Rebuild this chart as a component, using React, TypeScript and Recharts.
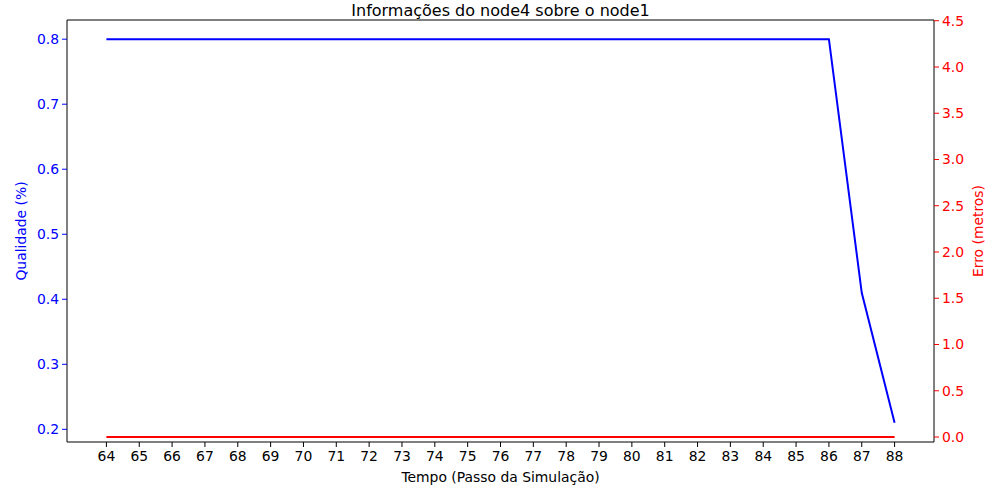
import React from "react";
import { LineChart, Line, XAxis, YAxis, Label } from "recharts";

// Passos da simulação
const steps = [64, 65, 66, 67, 68, 69, 70, 71, 72, 73, 74, 75, 76, 77, 78, 79, 80, 81, 82, 83, 84, 85, 86, 87, 88];
const qualidade = [0.8, 0.8, 0.8, 0.8, 0.8, 0.8, 0.8, 0.8, 0.8, 0.8, 0.8, 0.8, 0.8, 0.8, 0.8, 0.8, 0.8, 0.8, 0.8, 0.8, 0.8, 0.8, 0.8, 0.41, 0.21];
const erro = [0, 0, 0, 0, 0, 0, 0, 0, 0, 0, 0, 0, 0, 0, 0, 0, 0, 0, 0, 0, 0, 0, 0, 0, 0];
const leftTicks = [0.2, 0.3, 0.4, 0.5, 0.6, 0.7, 0.8];
const rightTicks = [0, 0.5, 1, 1.5, 2, 2.5, 3, 3.5, 4, 4.5];

const data = steps.map((s, i) => ({ step: s, qualidade: qualidade[i], erro: erro[i] }));

const FONT = "DejaVu Sans, sans-serif";
const FS = 13.9;

export default function App() {
  return (
    <div style={{ position: "absolute", left: 0, top: 0, fontFamily: FONT }}>
      <LineChart
        width={1000}
        height={500}
        data={data}
        margin={{ top: 19, right: 0, bottom: 0, left: 0 }}
      >
        <XAxis
          dataKey="step"
          type="number"
          domain={[62.8, 89.2]}
          ticks={steps}
          interval={0}
          allowDataOverflow
          height={58}
          tickSize={5}
          tickMargin={4}
          stroke="#000"
          tick={{ fill: "#000", fontSize: FS, fontFamily: FONT }}
        >
          <Label
            value="Tempo (Passo da Simulação)"
            position="insideBottom"
            offset={18}
            style={{ fill: "#000", fontSize: FS, fontFamily: FONT }}
          />
        </XAxis>
        <XAxis
          xAxisId="top"
          dataKey="step"
          type="number"
          orientation="top"
          domain={[62.8, 89.2]}
          allowDataOverflow
          height={1}
          tick={false}
          tickLine={false}
          stroke="#000"
        >
          <Label
            value="Informações do node4 sobre o node1"
            position="top"
            offset={3}
            style={{ fill: "#000", fontSize: 16, fontFamily: FONT }}
          />
        </XAxis>
        <YAxis
          yAxisId="left"
          orientation="left"
          width={67}
          domain={[0.1805, 0.8295]}
          ticks={leftTicks}
          allowDataOverflow
          tickFormatter={(v: number) => v.toFixed(1)}
          tickSize={5}
          tickMargin={3}
          axisLine={{ stroke: "#000" }}
          tickLine={{ stroke: "#0000ff" }}
          tick={{ fill: "#0000ff", fontSize: FS, fontFamily: FONT }}
        >
          <Label
            value="Qualidade (%)"
            angle={-90}
            position="insideLeft"
            offset={21}
            style={{ fill: "#0000ff", fontSize: FS, fontFamily: FONT, textAnchor: "middle" }}
          />
        </YAxis>
        <YAxis
          yAxisId="right"
          orientation="right"
          width={66}
          domain={[-0.054, 4.508]}
          ticks={rightTicks}
          allowDataOverflow
          tickFormatter={(v: number) => v.toFixed(1)}
          tickSize={5}
          tickMargin={3}
          axisLine={{ stroke: "#000" }}
          tickLine={{ stroke: "#ff0000" }}
          tick={{ fill: "#ff0000", fontSize: FS, fontFamily: FONT }}
        >
          <Label
            value="Erro (metros)"
            angle={-90}
            position="insideRight"
            offset={22}
            style={{ fill: "#ff0000", fontSize: FS, fontFamily: FONT, textAnchor: "middle" }}
          />
        </YAxis>
        <Line
          yAxisId="left"
          dataKey="qualidade"
          stroke="#0000ff"
          strokeWidth={2}
          dot={false}
          isAnimationActive={false}
        />
        <Line
          yAxisId="right"
          dataKey="erro"
          stroke="#ff0000"
          strokeWidth={2}
          dot={false}
          isAnimationActive={false}
        />
      </LineChart>
    </div>
  );
}
